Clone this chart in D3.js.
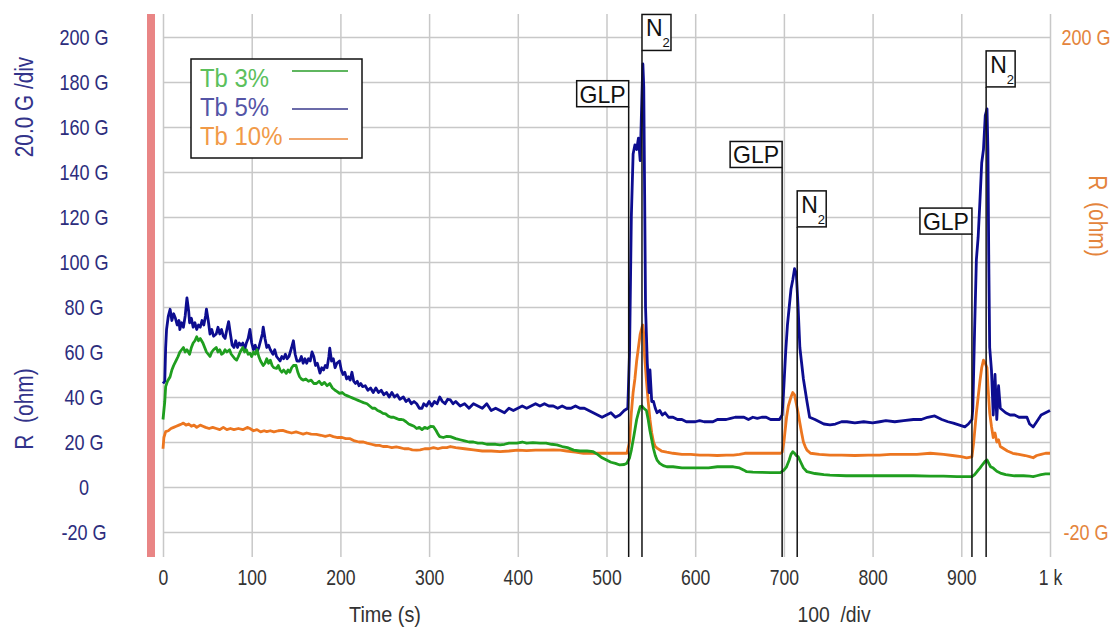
<!DOCTYPE html>
<html>
<head>
<meta charset="utf-8">
<script src="https://cdn.jsdelivr.net/npm/d3@7"></script>
<style>
body { margin: 0; background: #fff; }
svg text { font-family: "Liberation Sans", Arial, sans-serif; }
</style>
</head>
<body>
<svg id="chart" width="1115" height="629"></svg>
<script>
// series: [time (s), R (G ohm)]
var tb5 = [[0,46],[2,47],[3,62],[4,70],[6,76],[8,79],[10,74],[12,77],[14,75],[16,72],[18,74],[19,70],[21,73],[23,71],[25,76],[27,84],[29,78],[30,73],[32,75],[34,71],[36,73],[38,70],[40,72],[42,71],[44,74],[46,72],[48,76],[49,79],[51,74],[53,68],[55,70],[57,67],[60,68],[62,71],[64,68],[66,70],[68,67],[70,66],[72,70],[74,73.5],[76,68],[78,63],[80,62],[82,65],[84,62],[86,64],[88,63],[90,64],[92,61],[94,64],[96,66],[98,70],[100,64],[102,61],[104,63],[106,60],[108,62],[110,65],[112,68],[113,71],[115,66],[117,62],[119,63],[121,61],[124,59],[126,61],[128,58],[130,57],[132,56],[134,58],[136,57],[138,59],[140,57],[142,58],[145,62],[147,65],[149,59],[151,56],[154,56],[156,58],[158,55],[160,57],[162,55],[164,57],[166,56],[168,60],[170,58],[172,54],[174,55],[177,50.6],[179,53],[181,52],[183,54],[185,53],[187,58],[188,61.7],[190,56],[192,57],[194,53],[196,55],[199,56],[201,52],[203,50],[205,51],[207,48],[209,49],[211,47.5],[213,51],[215,47],[217,46],[219,47],[221,45],[223,46],[225,44.6],[228,45],[231,43],[234,44],[237,42],[240,44],[243,42],[246,43],[249,41],[252,42],[255,40],[258,42],[261,40],[264,41],[267,39],[271,40],[274,38],[277,39],[280,37],[283,38],[286,37],[289,35],[292,35],[294,37],[297,36],[300,38],[303,36],[306,38],[309,37],[312,40],[315,38],[318,37],[321,39],[324,38.7],[327,37],[330,38],[335,36],[340,37],[345,35],[350,37],[355,36],[360,35],[365,37],[370,34],[375,35],[380,34],[385,33],[390,35],[395,34],[400,35],[405,36],[410,35],[415,36],[420,37],[425,36],[430,37],[435,36],[440,36],[445,35],[450,36],[455,35],[460,35],[465,36],[470,35],[475,35],[480,34],[485,33],[490,32],[495,31],[500,32],[505,33],[510,31],[515,32],[520,34],[524,35],[526,60],[528,120],[530,148],[532,152],[534,150],[536,155],[538,145],[540,175],[541,188],[542,178],[543,130],[544,80],[546,55],[548,42],[549,52],[551,38],[553,38],[555,35],[557,33],[560,34],[563,32],[566,33],[570,31],[575,31],[580,30],[585,30],[590,29],[595,29],[600,29],[605,29.5],[610,29],[615,29],[620,29],[625,30],[630,30],[635,30],[640,30.5],[645,31],[650,31],[655,31],[660,30],[665,31],[670,30.5],[675,31],[680,31],[685,30],[690,30],[695,30],[698,32],[700,45],[702,60],[704,72],[706,80],[708,88],[710,92],[712,97],[714,95],[716,80],[718,62],[720,55],[722,48],[724,43],[726,38],[729,31],[735,30],[740,29],[745,28],[752,27.6],[758,28],[765,29],[771,29],[780,28.5],[790,29],[800,28.5],[808,29],[815,29.5],[825,29],[835,29.5],[846,30],[855,30],[862,31],[870,31.6],[878,30],[885,29],[891,28.4],[898,27.5],[904,26.7],[908,28],[912,30],[913,35],[915,70],[917,101],[919,111],[921,127],[923,144],[925,150],[927,165],[929,168],[930,150],[931,100],[932,62],[934,52],[936,32],[938,50],[940,30],[942,45],[944,35],[947,34],[950,33],[955,32],[960,32],[965,31],[970,31],[974,31],[977,28],[981,26.7],[985,29],[990,32],[995,33],[1000,34]];

var tb10 = [[0,17],[1,22],[3,24.6],[6,25],[9,26],[12,26.5],[15,27],[18,27.5],[21,28],[23,28.4],[26,27.5],[29,28],[32,27],[35,27.5],[38,26.5],[42,27.5],[45,27],[48,26.5],[52,26],[56,26.5],[60,26],[64,25.5],[68,26.5],[72,25.5],[76,26],[80,25.5],[85,26],[90,25.5],[95,26.5],[98,26],[102,25],[106,25.5],[110,24.5],[114,25],[117,24.6],[121,25],[125,24.5],[130,25],[135,25.2],[140,24.5],[145,24],[150,24.5],[154,24],[158,23.5],[162,24],[167,23.5],[173,23.4],[178,23],[183,22.5],[188,23],[192,22.4],[197,22],[202,22],[206,21.5],[211,21.5],[216,20.5],[221,20],[226,20],[230,19.5],[235,19],[240,18.5],[244,18.5],[248,18],[253,18],[258,17.5],[263,17.8],[267,17.5],[272,17],[277,17],[281,16.5],[286,16.4],[290,16.5],[295,17],[300,17],[305,17.5],[310,17],[315,17.5],[320,17.5],[324,18],[330,17.5],[340,17],[350,16.5],[360,16],[370,16],[380,15.7],[390,16],[400,16.4],[410,16.2],[420,16.4],[430,16.4],[440,16.5],[448,16.4],[455,16],[465,15.5],[474,15],[485,15],[493,15],[500,15],[510,15],[518,15],[523,15],[526,20],[528,33],[530,42],[532,48],[534,56],[536,62],[538,68],[540,71],[541,72],[542,68],[543,58],[545,47.5],[547,38],[549,30],[551,24],[553,20],[555,18],[557,17.3],[562,16],[568,15.5],[575,15],[585,14.5],[595,14.5],[605,14.2],[615,14.2],[625,14],[635,14.2],[643,14.2],[650,14.5],[656,15],[662,15],[670,15],[680,15],[690,15],[696,15],[698,15.5],[700,20],[703,31],[705,36],[708,40],[710,42],[712,41],[714,37],[716,33],[718,28.4],[720,24],[722,20],[724,18],[726,16.4],[730,15],[740,14.5],[752,14.2],[765,14.2],[780,14],[795,14.2],[808,14.2],[820,14.5],[835,14.5],[850,14.5],[865,15],[880,14.5],[890,14],[900,13.5],[906,13],[912,13.4],[914,20],[917,33],[919,40],[921,47],[923,53],[925,56.4],[927,55],[929,53],[930,45],[932,33],[934,27],[936,22],[938,24],[940,20],[942,21],[944,18],[948,17],[952,16],[958,15],[965,14.5],[972,14],[977,13.5],[981,13],[985,14],[990,14.5],[995,15],[1000,15]];

var tb3 = [[0,30],[2,38],[3,44.6],[5,47],[8,49],[10,52],[12,54],[15,56.4],[17,58],[19,60],[21,61],[23,62],[25,60],[27,61],[30,59],[32,62],[34,64],[36,65],[38,66.8],[40,65],[42,66],[45,64],[47,62],[49,60],[51,59],[53,58],[55,60],[57,61],[60,62],[62,60],[64,61],[66,59],[68,59.5],[70,61],[72,60],[75,61],[77,59],[79,58],[81,57],[83,56.4],[85,58],[87,60],[90,62],[92,60],[94,61],[96,59],[98,59.5],[100,58],[102,60],[104,59],[106,61],[108,58],[110,56],[113,54],[115,55],[117,57],[119,55],[121,56.4],[123,54],[125,53],[128,52.7],[130,54],[132,52],[134,51],[136,52],[139,50.5],[141,52],[143,51],[145,53],[147,54],[150,54],[152,51],[154,49],[156,48],[158,47.5],[161,48],[164,47],[167,47.5],[170,46],[173,46],[176,47],[179,45.5],[182,46.5],[185,45],[188,46],[191,44],[194,43],[196,42.5],[199,41.6],[202,42],[205,41],[208,40.5],[211,40],[214,39.5],[217,39],[220,38.5],[223,38],[226,37.5],[230,37],[233,36],[236,35],[239,35],[242,34],[245,33.5],[248,32.7],[251,32.5],[254,31.5],[257,31],[260,31],[263,30.5],[266,30],[269,30],[271,29.8],[274,29],[277,28],[280,27.5],[283,27],[286,26],[289,26.5],[292,25.5],[295,26.5],[298,26],[302,27],[305,26.8],[308,25],[310,23.5],[312,22.4],[316,22],[320,22.5],[324,22.4],[330,21.5],[335,21],[340,20.5],[345,20],[350,20],[355,19.5],[360,19.5],[365,19],[370,19],[375,19],[380,18.7],[385,19],[390,19.5],[399,19.5],[405,20],[410,19.5],[417,19.7],[425,19.5],[432,19.5],[438,19],[444,18.7],[450,18],[456,17.5],[463,16.4],[470,16],[478,16],[485,15.7],[490,14.5],[495,13],[500,12],[505,11],[510,10.5],[515,9.8],[520,10],[523,10.6],[526,13],[528,16.4],[531,23],[534,30],[536,33],[538,35.7],[540,36],[542,35],[545,34],[547,30],[549,25],[551,21],[553,17],[555,14],[557,12],[560,10.5],[564,9.5],[568,9],[575,9],[585,8.5],[595,8.5],[605,8.5],[615,8.5],[625,9],[635,9],[643,9],[650,8.5],[655,7.5],[658,6.8],[665,6.6],[675,6.5],[685,6.4],[696,6.4],[700,7.5],[703,9],[706,12],[708,14.5],[710,15.7],[712,15],[714,14],[716,13.5],[719,11],[722,8.5],[726,6.8],[735,6],[745,5.5],[752,5.3],[770,5],[790,5],[810,5],[830,5],[846,5],[865,4.8],[880,4.8],[895,4.6],[905,4.6],[912,4.6],[915,5.5],[918,7],[921,8.4],[924,10],[927,11.5],[929,12],[931,10.5],[933,9],[936,8.4],[940,7],[944,6.2],[950,5.5],[960,5],[970,5],[977,4.8],[981,4.6],[985,5],[990,5.5],[995,5.8],[1000,5.8]];

var seriesNames = ["Tb 3%", "Tb 5%", "Tb 10%"];

var xTicks = [0, 100, 200, 300, 400, 500, 600, 700, 800, 900, 1000];
var yTicks = [-20, 0, 20, 40, 60, 80, 100, 120, 140, 160, 180, 200];
var rightTicks = [-20, 200];

// event markers: time, level of the label box (G), label
var markTimes = [525, 540, 698, 715, 912, 928];
var markLevels = [169, 194, 142, 115.6, 112.4, 177.8];
var markLabels = ["GLP", "N2", "GLP", "N2", "GLP", "N2"];

var svg = d3.select("#chart");
var x = d3.scaleLinear().domain([0, 1000]).range([163, 1050]);
var y = d3.scaleLinear().domain([-31.1, 210.2]).range([557, 14]);

function fmtG(v) { return v == 0 ? "0" : v + " G"; }

// the original uses a tall narrow face: squeeze Liberation Sans horizontally
function squeeze(sel, k) {
  sel.each(function() {
    var w = this.getComputedTextLength();
    d3.select(this).attr("textLength", w * k).attr("lengthAdjust", "spacingAndGlyphs");
  });
}

// red strip left of the plot
svg.append("rect").attr("x", 147).attr("y", 14).attr("width", 8).attr("height", 543).attr("fill", "#e98585");

// grid
var grid = svg.append("g");
grid.append("g").attr("transform", "translate(0,557)")
  .call(d3.axisBottom(x).tickValues(xTicks).tickSize(-543).tickFormat(""));
grid.append("g").attr("transform", "translate(163,0)")
  .call(d3.axisLeft(y).tickValues(yTicks).tickSize(-887).tickFormat(""));
grid.selectAll(".domain").remove();
grid.selectAll("line").attr("stroke", "#c8c8c8").attr("stroke-width", 1.5);

// left axis labels
var yAxis = svg.append("g").attr("transform", "translate(163,0)")
  .call(d3.axisLeft(y).tickValues(yTicks).tickSize(0).tickFormat(fmtG));
yAxis.select(".domain").remove();
yAxis.selectAll("text").attr("x", 84 - 163).attr("text-anchor", "middle")
  .attr("fill", "#2d2d7d").style("font-size", "22px").call(squeeze, 0.82);

// right axis labels (scaled instead of squeezed so the box stays inside the page)
var rAxis = svg.append("g").attr("transform", "translate(1050,0)")
  .call(d3.axisRight(y).tickValues(rightTicks).tickSize(0).tickFormat(fmtG));
rAxis.select(".domain").remove();
rAxis.selectAll("text").attr("x", 36 / 0.82).attr("text-anchor", "middle")
  .attr("transform", "scale(0.82,1)")
  .attr("fill", "#e4843c").style("font-size", "22px");

// bottom axis labels
var xAxis = svg.append("g").attr("transform", "translate(0,557)")
  .call(d3.axisBottom(x).tickValues(xTicks).tickSize(0).tickFormat(function(v) { return v == 1000 ? "1 k" : v; }));
xAxis.select(".domain").remove();
xAxis.selectAll("text").attr("y", 20).attr("dy", "0.35em")
  .attr("fill", "#333").style("font-size", "22px").call(squeeze, 0.8);

// axis titles
svg.append("text").attr("transform", "translate(33,107) rotate(-90)").attr("text-anchor", "middle")
  .attr("fill", "#33338a").style("font-size", "25px").text("20.0 G /div").call(squeeze, 0.83);
svg.append("text").attr("transform", "translate(33,409) rotate(-90)").attr("text-anchor", "middle")
  .attr("fill", "#33338a").style("font-size", "25px").style("white-space", "pre").text("R  (ohm)").call(squeeze, 0.84);
svg.append("text").attr("transform", "translate(1089,216) rotate(90)").attr("text-anchor", "middle")
  .attr("fill", "#e4843c").style("font-size", "25px").style("white-space", "pre").text("R  (ohm)").call(squeeze, 0.84);
svg.append("text").attr("x", 385).attr("y", 622).attr("text-anchor", "middle")
  .attr("fill", "#333").style("font-size", "22px").text("Time (s)").call(squeeze, 0.9);
svg.append("text").attr("x", 834).attr("y", 622).attr("text-anchor", "middle")
  .attr("fill", "#333").style("font-size", "22px").style("white-space", "pre").text("100  /div").call(squeeze, 0.88);

// series
var line = d3.line().x(function(d) { return x(d[0]); }).y(function(d) { return y(d[1]); });
var series = [
  {data: tb10, color: "#ec7620"},
  {data: tb5, color: "#0d0d90"},
  {data: tb3, color: "#1f9e1f"}
];
svg.selectAll(".series").data(series).enter().append("path")
  .attr("class", "series")
  .attr("d", function(d) { return line(d.data); })
  .attr("fill", "none")
  .attr("stroke", function(d) { return d.color; })
  .attr("stroke-width", 2.8)
  .attr("stroke-linejoin", "round");

// markers
var marks = markTimes.map(function(t, i) { return {t: t, v: markLevels[i], label: markLabels[i]}; });
var mg = svg.selectAll(".mark").data(marks).enter().append("g").attr("class", "mark");
mg.append("line")
  .attr("x1", function(d) { return x(d.t); }).attr("x2", function(d) { return x(d.t); })
  .attr("y1", function(d) { return y(d.v); }).attr("y2", 557)
  .attr("stroke", "#111").attr("stroke-width", 1.5);
mg.append("rect")
  .attr("x", function(d) { return d.label == "GLP" ? x(d.t) - 52 : x(d.t); })
  .attr("y", function(d) { return d.label == "GLP" ? y(d.v) - 26 : y(d.v) - 36; })
  .attr("width", function(d) { return d.label == "GLP" ? 52 : 29; })
  .attr("height", function(d) { return d.label == "GLP" ? 26 : 36; })
  .attr("fill", "#fff").attr("stroke", "#111").attr("stroke-width", 1.5);
mg.filter(function(d) { return d.label == "GLP"; }).append("text")
  .attr("x", function(d) { return x(d.t) - 26; }).attr("y", function(d) { return y(d.v) - 4; })
  .attr("text-anchor", "middle").style("font-size", "24px").attr("fill", "#111").text("GLP")
  .call(squeeze, 0.96);
var n2 = mg.filter(function(d) { return d.label == "N2"; }).append("text")
  .attr("x", function(d) { return x(d.t) + 4; }).attr("y", function(d) { return y(d.v) - 14; })
  .attr("fill", "#111").style("font-size", "23px");
n2.append("tspan").text("N");
n2.append("tspan").attr("dy", 11).style("font-size", "13px").text("2");

// legend
var legColors = ["#5cc05c", "#5454a6", "#f19a48"];
var legLine = ["#2a9e2a", "#3a3a8c", "#ec8a3e"];
var legY = [87, 116, 145];
var legLineY = [71, 109, 139];
var lg = svg.append("g");
lg.append("rect").attr("x", 191).attr("y", 59).attr("width", 171).attr("height", 99)
  .attr("fill", "#fff").attr("stroke", "#111").attr("stroke-width", 1.5);
seriesNames.forEach(function(name, i) {
  lg.append("text").attr("x", 200).attr("y", legY[i])
    .attr("fill", legColors[i]).style("font-size", "26px").text(name).call(squeeze, 0.92);
  lg.append("line").attr("x1", i == 2 ? 289 : 292).attr("x2", 348)
    .attr("y1", legLineY[i]).attr("y2", legLineY[i])
    .attr("stroke", legLine[i]).attr("stroke-width", 1.5);
});
</script>
</body>
</html>
